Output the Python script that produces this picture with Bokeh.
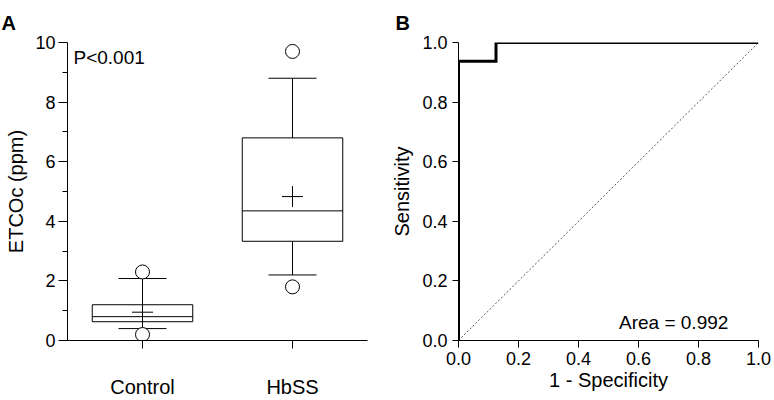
from bokeh.plotting import figure
from bokeh.layouts import row
from bokeh.models import Range1d, FixedTicker, Label, ColumnDataSource
from bokeh.embed import file_html
from bokeh.resources import INLINE

# ---------------- data ----------------
groups = ["Control", "HbSS"]
group_pos = [1, 2]
box_low = [0.63, 3.33]
box_median = [0.80, 4.35]
box_high = [1.20, 6.80]
whisker_low = [0.40, 2.20]
whisker_high = [2.08, 8.80]
means = [0.95, 4.83]
outlier_group = [1, 1, 2, 2]
outlier_values = [2.30, 0.20, 9.70, 1.80]
y_ticks_a = [0, 2, 4, 6, 8, 10]
y_minor_a = [1, 3, 5, 7, 9]
p_text = "P<0.001"

roc_fpr = [0.0, 0.0, 0.125, 0.125, 1.0]
roc_tpr = [0.0, 0.9375, 0.9375, 1.0, 1.0]
ref_line = [0.0, 1.0]
roc_ticks = [0.0, 0.2, 0.4, 0.6, 0.8, 1.0]
roc_tick_labels = ["0.0", "0.2", "0.4", "0.6", "0.8", "1.0"]
auc_text = "Area = 0.992"

FONT = "Liberation Sans"
BOX_W = 0.67
CAP_W = 0.32


def style_axes(p, panel_letter, offset):
    for ax in (p.xaxis[0], p.yaxis[0]):
        ax.axis_line_color = "black"
        ax.axis_line_width = 1
        ax.major_tick_line_color = "black"
        ax.minor_tick_line_color = "black"
        ax.major_tick_in = 0
        ax.minor_tick_in = 0
        ax.major_label_text_font = FONT
        ax.axis_label_text_font = FONT
        ax.axis_label_text_font_style = "normal"
        ax.axis_label_text_color = "black"
        ax.major_label_text_color = "black"
    p.xgrid.visible = False
    p.ygrid.visible = False
    p.outline_line_color = None
    p.background_fill_color = "white"
    p.border_fill_color = "white"
    p.title.text = panel_letter
    p.title.align = "left"
    p.title.offset = offset
    p.title.standoff = 18
    p.title.text_font = FONT
    p.title.text_font_size = "20px"
    p.title.text_font_style = "bold"
    p.title.text_color = "black"


# ---------------- panel A ----------------
pA = figure(width=383, height=400, output_backend="svg", toolbar_location=None,
            x_range=Range1d(0.5, 2.5), y_range=Range1d(0, 10),
            min_border_left=67, min_border_right=16, min_border_top=42, min_border_bottom=59)
style_axes(pA, "A", -66)

src = ColumnDataSource(dict(x=group_pos, lo=box_low, med=box_median, hi=box_high,
                            wlo=whisker_low, whi=whisker_high, mean=means,
                            cl=[g - CAP_W / 2 for g in group_pos],
                            cr=[g + CAP_W / 2 for g in group_pos],
                            bl=[g - BOX_W / 2 for g in group_pos],
                            br=[g + BOX_W / 2 for g in group_pos]))
pA.quad(left="bl", right="br", bottom="lo", top="hi", source=src,
        fill_color=None, line_color="black", line_width=1)
pA.segment(x0="bl", x1="br", y0="med", y1="med", source=src, line_color="black", line_width=1)
pA.segment(x0="x", x1="x", y0="hi", y1="whi", source=src, line_color="black", line_width=1)
pA.segment(x0="x", x1="x", y0="lo", y1="wlo", source=src, line_color="black", line_width=1)
pA.segment(x0="cl", x1="cr", y0="whi", y1="whi", source=src, line_color="black", line_width=1)
pA.segment(x0="cl", x1="cr", y0="wlo", y1="wlo", source=src, line_color="black", line_width=1)
pA.scatter(x="x", y="mean", source=src, marker="cross", size=21,
           line_color="black", line_width=1)
pA.scatter(outlier_group, outlier_values, marker="circle", size=14,
           fill_color="white", line_color="black", line_width=1)

pA.xaxis.ticker = FixedTicker(ticks=group_pos)
pA.xaxis.major_label_overrides = {g: n for g, n in zip(group_pos, groups)}
pA.xaxis.major_tick_out = 8
pA.xaxis.major_label_standoff = 27
pA.xaxis.major_label_text_font_size = "20px"
pA.xaxis.minor_tick_out = 0

pA.yaxis.ticker = FixedTicker(ticks=y_ticks_a, minor_ticks=y_minor_a)
pA.yaxis.major_tick_out = 9
pA.yaxis.minor_tick_out = 5
pA.yaxis.major_label_standoff = 3
pA.yaxis.major_label_text_font_size = "18px"
pA.yaxis.axis_label = "ETCOc (ppm)"
pA.yaxis.axis_label_text_font_size = "20px"
pA.yaxis.axis_label_standoff = 5

pA.add_layout(Label(x=0.54, y=9.51, text=p_text, text_font=FONT, text_font_size="19px",
                    text_color="black", text_baseline="alphabetic", text_align="left"))

# ---------------- panel B ----------------
pB = figure(width=391, height=400, output_backend="svg", toolbar_location=None,
            x_range=Range1d(0, 1), y_range=Range1d(0, 1),
            min_border_left=75, min_border_right=16, min_border_top=42, min_border_bottom=59)
style_axes(pB, "B", -63)

pB.line(ref_line, ref_line, line_color="#555555", line_width=1, line_dash="2 2")
pB.line(roc_fpr, roc_tpr, line_color="black", line_width=3, line_join="miter")

pB.xaxis.ticker = FixedTicker(ticks=roc_ticks)
pB.xaxis.major_label_overrides = {t: l for t, l in zip(roc_ticks, roc_tick_labels)}
pB.xaxis.major_tick_out = 7
pB.xaxis.minor_tick_out = 0
pB.xaxis.major_label_standoff = 4
pB.xaxis.major_label_text_font_size = "18px"
pB.xaxis.axis_label = "1 - Specificity"
pB.xaxis.axis_label_text_font_size = "20px"
pB.xaxis.axis_label_standoff = 1

pB.yaxis.ticker = FixedTicker(ticks=roc_ticks)
pB.yaxis.major_label_overrides = {t: l for t, l in zip(roc_ticks, roc_tick_labels)}
pB.yaxis.major_tick_out = 6
pB.yaxis.minor_tick_out = 0
pB.yaxis.major_label_standoff = 5
pB.yaxis.major_label_text_font_size = "18px"
pB.yaxis.axis_label = "Sensitivity"
pB.yaxis.axis_label_text_font_size = "20px"
pB.yaxis.axis_label_standoff = 6

pB.add_layout(Label(x=0.535, y=0.06, text=auc_text, text_font=FONT, text_font_size="19px",
                    text_color="black", text_baseline="alphabetic", text_align="left"))

layout = row(pA, pB)
open("out.html", "w").write(file_html(layout, INLINE))
